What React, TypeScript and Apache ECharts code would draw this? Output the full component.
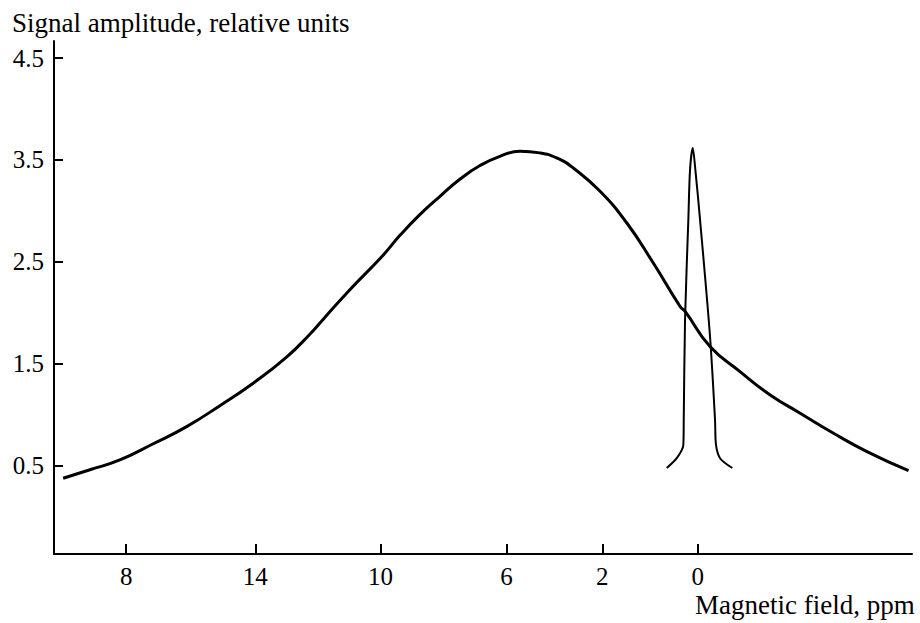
import React, { useEffect, useRef } from "react";
import * as echarts from "echarts";

// x values are in the axis' own units (ppm-like, increasing to the left)
const xTickValues = [18.14, 14.04, 10.07, 6.07, 3.03, 0];
const xTickLabels = ["8", "14", "10", "6", "2", "0"];
const yTickValues = [0.5, 1.5, 2.5, 3.5, 4.5];

const broadX = [20.14, 19.29, 18.34, 17.28, 16.22, 15.13, 14.11, 13.05, 12.31, 11.89, 11.04, 10.03, 9.45, 8.82, 8.18, 7.55, 6.91, 6.28, 5.64, 5.01, 4.48, 3.95, 3.1, 2.25, 1.41, 0.56, 0.4, -0.39, -1.34, -2.3, -3.25, -4.31, -5.37, -6.69];
const broadY = [0.376, 0.46, 0.556, 0.715, 0.883, 1.096, 1.309, 1.565, 1.79, 1.935, 2.226, 2.55, 2.76, 2.963, 3.143, 3.31, 3.445, 3.535, 3.585, 3.569, 3.52, 3.421, 3.192, 2.881, 2.488, 2.062, 2.013, 1.669, 1.423, 1.194, 1.015, 0.818, 0.638, 0.451];

const narrowX = [0.984, 0.667, 0.457, 0.444, 0.403, 0.298, 0.244, 0.159, 0.076, -0.073, -0.39, -0.549, -0.58, -0.708, -1.098];
const narrowY = [0.477, 0.573, 0.703, 0.948, 1.931, 2.914, 3.405, 3.618, 3.405, 2.914, 1.767, 0.948, 0.703, 0.573, 0.477];

const yTitle = "Signal amplitude, relative units";
const xTitle = "Magnetic field, ppm";

const FONT = "'Liberation Serif', 'Times New Roman', serif";

export default function App() {
  const ref = useRef<HTMLDivElement>(null);
  useEffect(() => {
    if (!ref.current) return;
    const chart = echarts.init(ref.current, null, { renderer: "svg" });
    const pairs = (xs: number[], ys: number[]) => xs.map((x, i) => [x, ys[i]]);
    chart.setOption({
      animation: false,
      backgroundColor: "#fff",
      grid: { left: 54, top: 41, right: 8, bottom: 69, containLabel: false },
      xAxis: {
        type: "value",
        inverse: true,
        min: -6.8,
        max: 20.43,
        splitLine: { show: false },
        axisLine: { show: true, onZero: false, lineStyle: { color: "#000", width: 2 } },
        axisTick: { show: true, inside: true, length: 10, lineStyle: { color: "#000", width: 2 }, customValues: xTickValues },
        axisLabel: {
          customValues: xTickValues,
          color: "#000",
          fontFamily: FONT,
          fontSize: 25,
          lineHeight: 20,
          margin: 12,
          formatter: (v: number) => {
            const i = xTickValues.findIndex((t) => Math.abs(t - v) < 1e-6);
            return i >= 0 ? xTickLabels[i] : "";
          },
        },
      },
      yAxis: {
        type: "value",
        min: -0.367,
        max: 4.667,
        splitLine: { show: false },
        axisLine: { show: true, onZero: false, lineStyle: { color: "#000", width: 2 } },
        axisTick: { show: true, inside: true, length: 9, lineStyle: { color: "#000", width: 2 }, customValues: yTickValues },
        axisLabel: {
          customValues: yTickValues,
          color: "#000",
          fontFamily: FONT,
          fontSize: 25,
          margin: 10,
          formatter: (v: number) => v.toFixed(1),
        },
      },
      graphic: [
        { type: "text", left: 12, top: 9, style: { text: yTitle, font: `27px ${FONT}`, fill: "#000" } },
        { type: "text", left: 695, top: 591, style: { text: xTitle, font: `27px ${FONT}`, fill: "#000", lineHeight: 24 } },
      ],
      series: [
        {
          type: "line",
          data: pairs(broadX, broadY),
          smooth: 0.5,
          showSymbol: false,
          lineStyle: { color: "#000", width: 3 },
        },
        {
          type: "line",
          data: pairs(narrowX, narrowY),
          smooth: 0.3,
          showSymbol: false,
          lineStyle: { color: "#000", width: 2 },
        },
      ],
    });
    return () => chart.dispose();
  }, []);
  return <div ref={ref} style={{ position: "fixed", left: 0, top: 0, width: 920, height: 623 }} />;
}
